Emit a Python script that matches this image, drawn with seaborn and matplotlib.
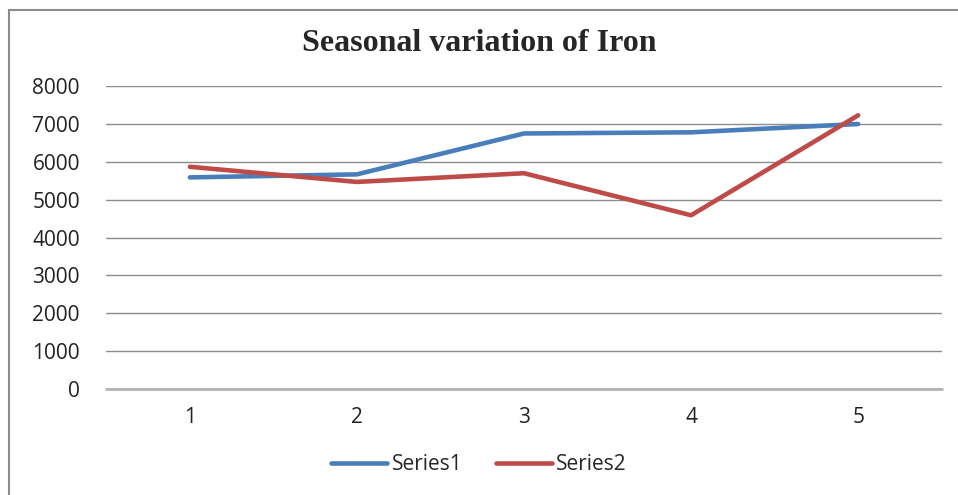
import matplotlib
matplotlib.use("Agg")
import matplotlib.pyplot as plt
import seaborn as sns
import pandas as pd
from matplotlib.patches import Rectangle
from matplotlib.lines import Line2D

# ── Datos ─────────────────────────────────────────────────────────────────────
seasons = [1, 2, 3, 4, 5]
series1 = [5590, 5670, 6750, 6780, 7000]
series2 = [5870, 5470, 5700, 4590, 7230]

df = pd.DataFrame({
    "x": seasons * 2,
    "y": series1 + series2,
    "serie": ["Series1"] * 5 + ["Series2"] * 5,
})

sns.set_style("white")
plt.rcParams["font.family"] = ["Open Sans", "DejaVu Sans"]

fig = plt.figure(figsize=(9.58, 4.95), dpi=100)
ax = fig.add_axes([0.111, 0.214, 0.872, 0.612])

sns.lineplot(data=df, x="x", y="y", hue="serie",
             palette={"Series1": "#4a7ebb", "Series2": "#be4b48"},
             linewidth=3.3, ax=ax, legend=False)

ax.set_xlim(0.5, 5.5)
ax.set_ylim(0, 8000)
ax.set_yticks(range(0, 8001, 1000))
ax.set_xticks(seasons)
ax.set_xlabel("")
ax.set_ylabel("")
ax.grid(axis="y", color="#8c8c8c", linewidth=1)
ax.set_axisbelow(True)
for s in ax.spines.values():
    s.set_visible(False)
# eje horizontal en 0
ax.axhline(0, color="#b4b4b4", linewidth=2, clip_on=False, zorder=0.5)
ax.tick_params(axis="both", length=0, labelsize=15, colors="#222222")
ax.tick_params(axis="y", pad=19)
ax.tick_params(axis="x", pad=13)

fig.text(0.5, 0.913, "Seasonal variation of Iron", ha="center", va="center",
         fontsize=23, fontweight="bold", family="Liberation Serif")

# leyenda
handles = [Line2D([], [], color="#4a7ebb", lw=3.3),
           Line2D([], [], color="#be4b48", lw=3.3)]
fig.legend(handles, ["Series1", "Series2"], loc="center",
           bbox_to_anchor=(0.5, 0.061), ncol=2, frameon=False,
           fontsize=15, handlelength=2.7, handletextpad=0.2, columnspacing=1.6)

# marco exterior
fig.patches.append(Rectangle((0.0095, -0.1), 1.2, 1.08, transform=fig.transFigure,
                             fill=False, edgecolor="#8c8c8c", linewidth=1.5))

fig.savefig("out.png", dpi=100)
